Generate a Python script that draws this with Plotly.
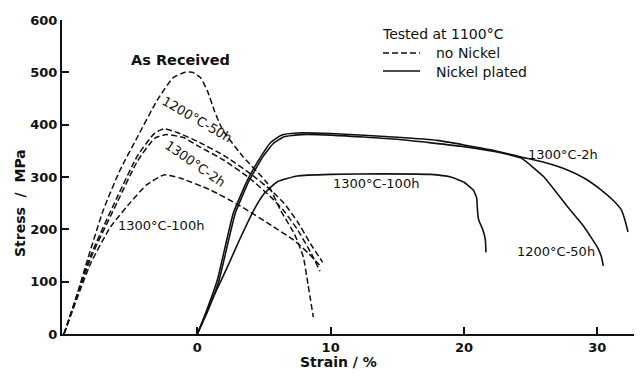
import plotly.graph_objects as go

# ---- data (strain %, stress MPa) ----
# no Nickel (dashed)
ar_x = [-10.0, -9.2, -8.25, -7.05, -5.8, -4.5, -3.0, -1.8, -0.9, -0.38, 0.23, 0.75, 1.3, 1.9, 3.45, 5.25, 6.23, 7.3, 7.95, 8.3, 8.7]
ar_y = [0, 60, 141, 237, 313, 376, 447, 490, 500, 500, 490, 465, 425, 390, 338, 288, 237, 190, 147, 95, 32]

d1200_50_x = [-10.0, -8.0, -6.0, -4.5, -3.2, -2.5, -1.5, 0.0, 2.0, 4.0, 5.5, 6.5, 7.5, 8.5, 9.4]
d1200_50_y = [0, 150, 262, 340, 384, 392, 385, 368, 341, 306, 275, 250, 215, 172, 137]

d1300_2_x = [-10.0, -8.0, -6.0, -4.5, -3.2, -2.3, -1.0, 0.0, 2.0, 4.0, 5.5, 6.5, 7.5, 8.5, 9.2]
d1300_2_y = [0, 145, 252, 330, 374, 381, 375, 360, 332, 296, 262, 235, 200, 156, 120]

d1300_100_x = [-10.0, -8.0, -6.5, -5.0, -3.8, -2.5, -1.3, 1.0, 3.2, 5.7, 7.2, 8.3, 9.3]
d1300_100_y = [0, 135, 205, 252, 285, 304, 298, 275, 245, 205, 180, 155, 128]

# Nickel plated (solid)
n1300_2_x = [0.0, 0.7, 1.5, 2.7, 3.76, 4.74, 5.5, 6.3, 7.5, 10.0, 15.0, 18.0, 22.0, 24.3, 26.0, 27.8, 29.0, 30.3, 31.2, 31.8, 32.1, 32.3]
n1300_2_y = [0, 45, 103, 231, 294, 338, 366, 380, 384, 383, 376, 370, 352, 338, 328, 313, 298, 275, 255, 237, 215, 195]

n1200_50_x = [0.0, 0.8, 1.6, 2.85, 3.9, 4.9, 5.7, 6.5, 7.8, 10.0, 15.0, 20.0, 23.0, 24.3, 26.0, 27.8, 29.0, 30.0, 30.3, 30.45]
n1200_50_y = [0, 45, 100, 231, 294, 338, 364, 377, 381, 380, 372, 358, 345, 336, 300, 242, 205, 166, 148, 130]

n1300_100_x = [0.0, 1.0, 2.2, 3.2, 4.2, 5.0, 6.0, 7.5, 10.0, 14.0, 17.5, 19.0, 20.0, 20.7, 20.95, 21.0, 21.1, 21.4, 21.6, 21.65]
n1300_100_y = [0, 60, 125, 182, 235, 268, 291, 302, 305, 306, 305, 300, 290, 275, 260, 240, 218, 200, 180, 156]

x_ticks = [0, 10, 20, 30]
y_ticks = [0, 100, 200, 300, 400, 500, 600]

BLACK = "#111111"
FONT = "DejaVu Sans"

fig = go.Figure()

dash_style = dict(color=BLACK, width=1.5, dash="6px,3px")
solid_style = dict(color=BLACK, width=1.6)

for xs, ys in [(ar_x, ar_y), (d1200_50_x, d1200_50_y), (d1300_2_x, d1300_2_y), (d1300_100_x, d1300_100_y)]:
    fig.add_trace(go.Scatter(x=xs, y=ys, mode="lines", line=dict(shape="spline", smoothing=0.5, **dash_style),
                             showlegend=False, hoverinfo="skip"))
for xs, ys in [(n1300_2_x, n1300_2_y), (n1200_50_x, n1200_50_y), (n1300_100_x, n1300_100_y)]:
    fig.add_trace(go.Scatter(x=xs, y=ys, mode="lines", line=dict(shape="spline", smoothing=0.4, **solid_style),
                             showlegend=False, hoverinfo="skip"))

lab = dict(family=FONT, size=13, color=BLACK)
annotations = [
    dict(x=-1.3, y=523, text="<b>As Received</b>", font=dict(family=FONT, size=14.5, color=BLACK)),
    dict(x=0.0, y=410, text="1200°C-50h", textangle=30, font=lab),
    dict(x=-0.2, y=325, text="1300°C-2h", textangle=35, font=lab),
    dict(x=-2.7, y=207, text="1300°C-100h", font=lab),
    dict(x=13.4, y=288, text="1300°C-100h", font=lab),
    dict(x=27.4, y=343, text="1300°C-2h", font=lab),
    dict(x=26.9, y=157, text="1200°C-50h", font=lab),
]
for a in annotations:
    a.update(xref="x", yref="y", showarrow=False)

leg_font = dict(family=FONT, size=14, color=BLACK)
# legend text
annotations += [
    dict(xref="paper", yref="paper", x=(380 - 62) / 578, y=(334 - 34) / 314, xanchor="left", yanchor="middle",
         text="Tested at 1100°C", showarrow=False, font=leg_font),
    dict(xref="paper", yref="paper", x=(434 - 62) / 578, y=(334 - 53) / 314, xanchor="left", yanchor="middle",
         text="no Nickel", showarrow=False, font=leg_font),
    dict(xref="paper", yref="paper", x=(434 - 62) / 578, y=(334 - 72) / 314, xanchor="left", yanchor="middle",
         text="Nickel plated", showarrow=False, font=leg_font),
    # axis titles
    dict(xref="paper", yref="paper", x=(338 - 62) / 578, y=-(362 - 334) / 314, xanchor="center", yanchor="middle",
         text="<b>Strain ∕ %</b>", showarrow=False, font=dict(family=FONT, size=14, color=BLACK)),
    dict(xref="paper", yref="paper", x=-(62 - 20) / 578, y=(334 - 203) / 314, xanchor="center", yanchor="middle",
         text="<b>Stress  ∕  MPa</b>", textangle=-90, showarrow=False, font=dict(family=FONT, size=14, color=BLACK)),
]

shapes = [
    dict(type="line", xref="paper", yref="paper", x0=(383 - 62) / 578, x1=(420 - 62) / 578,
         y0=(334 - 53) / 314, y1=(334 - 53) / 314, line=dict(color=BLACK, width=1.5, dash="6px,3px")),
    dict(type="line", xref="paper", yref="paper", x0=(383 - 62) / 578, x1=(420 - 62) / 578,
         y0=(334 - 71) / 314, y1=(334 - 71) / 314, line=dict(color=BLACK, width=1.6)),
]

# page body has an 8px default margin, so the figure is sized to fit inside the window
fig.update_layout(
    width=634, height=375,
    margin=dict(l=54, r=2, t=12, b=49, autoexpand=False),
    paper_bgcolor="white", plot_bgcolor="white",
    annotations=annotations, shapes=shapes,
    showlegend=False,
)
fig.update_xaxes(range=[-10.15, 33.2], tickvals=x_ticks, ticktext=[str(v) for v in x_ticks],
                 ticks="inside", ticklen=7, tickwidth=1.5, tickcolor=BLACK, automargin=False,
                 showline=True, linecolor=BLACK, linewidth=2, showgrid=False, zeroline=False,
                 tickfont=dict(family=FONT, size=13, color=BLACK, weight="bold"))
fig.update_yaxes(range=[0, 600], tickvals=y_ticks, ticktext=[str(v) for v in y_ticks],
                 ticks="inside", ticklen=7, tickwidth=1.5, tickcolor=BLACK, automargin=False,
                 showline=True, linecolor=BLACK, linewidth=2, showgrid=False, zeroline=False,
                 tickfont=dict(family=FONT, size=13, color=BLACK, weight="bold"))

fig.write_html("out.html")
